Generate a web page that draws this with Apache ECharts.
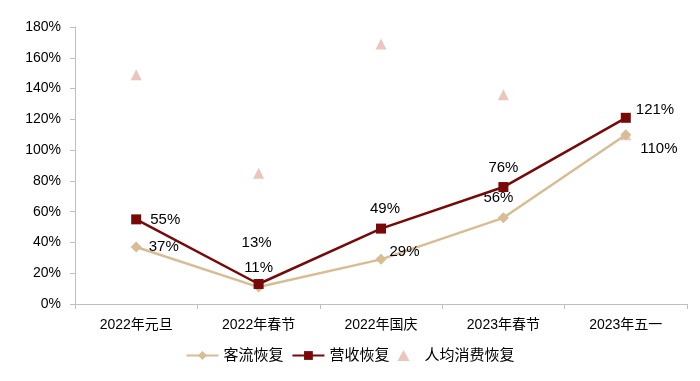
<!DOCTYPE html>
<html><head><meta charset="utf-8">
<script src="https://cdn.jsdelivr.net/npm/echarts@6/dist/echarts.min.js"></script>
<style>html,body{margin:0;padding:0;background:#fff}#c{width:700px;height:381px}</style>
</head><body><div id="c"></div>
<script>
const categories = ['2022年元旦','2022年春节','2022年国庆','2023年春节','2023年五一'];
const keliu = [37, 11, 29, 56, 110];
const yingshou = [55, 13, 49, 76, 121];
const renjun = [149, 85, 169, 136, 110];

const FONT = '"Liberation Sans", Arial, "Noto Sans CJK SC", sans-serif';
const keliuLabels = [
  {position:'right', offset:[2,0]},
  {position:'top', offset:[0,-1]},
  {position:'right', offset:[-2,-8]},
  {position:'top', offset:[-5,-2]},
  {position:'right', offset:[4,14]}
];
const ysLabels = [
  {position:'right', offset:[4,0]},
  {position:'top', offset:[-2,-24]},
  {position:'top', offset:[4,-2]},
  {position:'top', offset:[0,-2]},
  {position:'right', offset:[0,-8]}
];
const chart = echarts.init(document.getElementById('c'));
chart.setOption({
  animation:false,
  textStyle:{fontFamily:FONT},
  grid:{left:75,right:13,top:27,bottom:77},
  legend:{
    top:343, left:'center', itemGap:8, itemWidth:32, itemHeight:11,
    textStyle:{fontSize:15,color:'#000',fontFamily:FONT},
    data:['客流恢复','营收恢复',{name:'人均消费恢复',icon:'path://M5,0 L10,9 L0,9 Z'}]
  },
  xAxis:{
    type:'category', data:categories, boundaryGap:true,
    axisLine:{lineStyle:{color:'#BFBFBF'}},
    axisTick:{show:true,alignWithLabel:false,length:5,lineStyle:{color:'#BFBFBF'}},
    axisLabel:{fontSize:14,color:'#000',margin:14,fontFamily:FONT}
  },
  yAxis:{
    type:'value', min:0, max:180, interval:20,
    axisLine:{show:true,lineStyle:{color:'#BFBFBF'}},
    axisTick:{show:true,length:5,lineStyle:{color:'#BFBFBF'}},
    splitLine:{show:false},
    axisLabel:{fontSize:14,color:'#000',margin:14,formatter:v=>v+'%'}
  },
  series:[
    {name:'客流恢复',type:'line',data:keliu.map((v,i)=>({value:v,label:keliuLabels[i]})),
     symbol:'diamond',symbolSize:11,color:'#D8BC94',lineStyle:{width:2.5,color:'#D8BC94'},
     itemStyle:{color:'#D8BC94'},
     label:{show:true,fontSize:15,color:'#000',formatter:p=>p.value+'%'},z:2},
    {name:'营收恢复',type:'line',data:yingshou.map((v,i)=>({value:v,label:ysLabels[i]})),
     symbol:'rect',symbolSize:10,color:'#790808',lineStyle:{width:2.5,color:'#790808'},
     itemStyle:{color:'#790808'},
     label:{show:true,fontSize:15,color:'#000',formatter:p=>p.value+'%'},z:3},
    {name:'人均消费恢复',type:'scatter',data:renjun,symbol:'triangle',symbolSize:11,
     color:'#E6B8AB',itemStyle:{color:'#E6B8AB'},z:1}
  ]
});
</script></body></html>
